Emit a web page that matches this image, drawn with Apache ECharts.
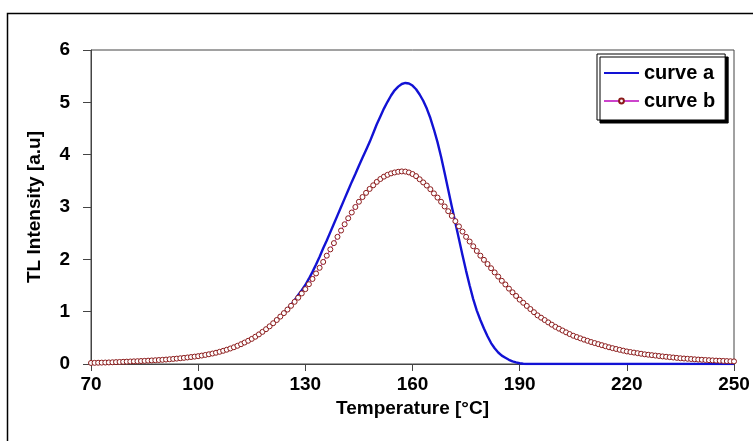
<!DOCTYPE html>
<html>
<head>
<meta charset="utf-8">
<script src="https://cdn.jsdelivr.net/npm/echarts@6/dist/echarts.min.js"></script>
<style>html,body{margin:0;padding:0;background:#fff}#c{width:753px;height:441px}</style>
</head>
<body>
<div id="c"></div>
<script>
// Temperatures (°C), 1-degree steps from 70 to 250
var tStart = 70, tEnd = 250;
var temperatures = [];
for (var t = tStart; t <= tEnd; t++) temperatures.push(String(t));
var xTickLabels = ['70','100','130','160','190','220','250'];
var yTickLabels = [0,1,2,3,4,5,6];

var curveA = [
 0.020,0.022,0.024,0.026,0.028,0.030,0.033,0.036,0.039,0.042,
 0.045,0.048,0.051,0.054,0.057,0.060,0.064,0.068,0.072,0.076,
 0.080,0.085,0.091,0.097,0.103,0.110,0.117,0.125,0.133,0.141,
 0.150,0.161,0.173,0.186,0.200,0.215,0.233,0.252,0.273,0.296,
 0.320,0.348,0.378,0.410,0.444,0.480,0.521,0.566,0.614,0.665,
 0.720,0.779,0.841,0.906,0.972,1.050,1.130,1.220,1.320,1.410,
 1.510,1.630,1.760,1.900,2.050,2.210,2.360,2.520,2.680,2.840,
 3.000,3.160,3.320,3.480,3.630,3.790,3.940,4.090,4.240,4.410,
 4.580,4.730,4.880,5.010,5.130,5.230,5.300,5.350,5.370,5.360,
 5.320,5.250,5.150,5.030,4.880,4.700,4.480,4.240,3.960,3.650,
 3.330,3.010,2.700,2.390,2.080,1.780,1.500,1.240,1.020,0.840,
 0.680,0.530,0.400,0.300,0.220,0.160,0.120,0.080,0.050,0.030,
 0.015,0.005,0,0,0,0,0,0,0,0,
 0,0,0,0,0,0,0,0,0,0,
 0,0,0,0,0,0,0,0,0,0,
 0,0,0,0,0,0,0,0,0,0,
 0,0,0,0,0,0,0,0,0,0,
 0,0,0,0,0,0,0,0,0,0,
 0
];

var curveB = [
 0.020,0.022,0.024,0.026,0.028,0.030,0.033,0.036,0.039,0.042,
 0.045,0.048,0.051,0.054,0.057,0.060,0.064,0.068,0.072,0.076,
 0.080,0.085,0.091,0.097,0.103,0.110,0.117,0.125,0.133,0.141,
 0.150,0.161,0.173,0.186,0.200,0.215,0.233,0.252,0.273,0.296,
 0.320,0.348,0.378,0.410,0.444,0.480,0.521,0.566,0.614,0.665,
 0.720,0.779,0.841,0.906,0.972,1.040,1.112,1.188,1.267,1.348,
 1.430,1.525,1.625,1.730,1.838,1.950,2.070,2.190,2.310,2.430,
 2.550,2.670,2.785,2.895,3.000,3.100,3.190,3.270,3.345,3.415,
 3.480,3.535,3.580,3.615,3.642,3.660,3.673,3.680,3.677,3.660,
 3.630,3.590,3.530,3.470,3.410,3.340,3.260,3.180,3.100,3.010,
 2.920,2.830,2.730,2.630,2.530,2.430,2.340,2.250,2.160,2.070,
 1.990,1.910,1.830,1.750,1.670,1.590,1.520,1.440,1.370,1.300,
 1.230,1.170,1.110,1.050,0.990,0.930,0.885,0.840,0.795,0.752,
 0.710,0.675,0.640,0.605,0.572,0.540,0.515,0.490,0.466,0.443,
 0.420,0.400,0.380,0.360,0.340,0.320,0.303,0.287,0.271,0.255,
 0.240,0.229,0.218,0.207,0.196,0.185,0.177,0.169,0.161,0.153,
 0.145,0.138,0.131,0.124,0.117,0.110,0.105,0.100,0.095,0.090,
 0.085,0.081,0.077,0.073,0.069,0.065,0.062,0.059,0.056,0.053,
 0.050
];

var FONT = 'Arial, "Liberation Sans", sans-serif';
var FS = 19;
var chart = echarts.init(document.getElementById('c'), null, {renderer: 'canvas'});
function isTick(i, v) { return xTickLabels.indexOf(String(v)) >= 0; }

chart.setOption({
  animation: false,
  backgroundColor: '#fff',
  graphic: [{
    type: 'rect', z: -10, silent: true,
    shape: {x: 7.5, y: 13.5, width: 770, height: 450},
    style: {fill: 'none', stroke: '#000', lineWidth: 1.5}
  }],
  grid: {left: 91, right: 19, top: 50, bottom: 77, show: true,
         borderColor: '#444', borderWidth: 1, backgroundColor: 'transparent'},
  legend: {
    orient: 'vertical', left: 597, top: 54,
    padding: [9, 10, 9, 6], itemGap: 8, itemWidth: 35, itemHeight: 6,
    backgroundColor: '#fff', borderColor: '#000', borderWidth: 1,
    shadowColor: '#000', shadowOffsetX: 3, shadowOffsetY: 3, shadowBlur: 0,
    textStyle: {fontFamily: FONT, fontSize: 20, fontWeight: 'bold', color: '#000'},
    data: [
      {name: 'curve a', itemStyle: {opacity: 0}},
      {name: 'curve b'}
    ]
  },
  xAxis: {
    type: 'category', data: temperatures, boundaryGap: false,
    name: 'Temperature [°C]', nameLocation: 'middle', nameGap: 32,
    nameTextStyle: {fontFamily: FONT, fontSize: FS, fontWeight: 'bold', color: '#000'},
    axisLine: {lineStyle: {color: '#444', width: 1}},
    axisTick: {show: true, inside: false, length: 7, interval: isTick, lineStyle: {color: '#444'}},
    axisLabel: {interval: isTick, margin: 11, fontFamily: FONT, fontSize: FS, fontWeight: 'bold', color: '#000'},
    splitLine: {show: false}
  },
  yAxis: {
    type: 'value', min: yTickLabels[0], max: yTickLabels[yTickLabels.length-1], interval: 1,
    name: 'TL Intensity [a.u]', nameLocation: 'middle', nameGap: 47, nameRotate: 90,
    nameTextStyle: {fontFamily: FONT, fontSize: FS, fontWeight: 'bold', color: '#000'},
    axisLine: {show: true, lineStyle: {color: '#444', width: 1}},
    axisTick: {show: true, inside: false, length: 8, lineStyle: {color: '#444'}},
    axisLabel: {margin: 21, fontFamily: FONT, fontSize: FS, fontWeight: 'bold', color: '#000'},
    splitLine: {show: false}
  },
  series: [{
    name: 'curve a', type: 'line', data: curveA, showSymbol: false, symbol: 'none',
    lineStyle: {color: '#1212d4', width: 2.4}, itemStyle: {color: '#1212d4'}, z: 2
  }, {
    name: 'curve b', type: 'line', data: curveB, symbol: 'circle', symbolSize: 5,
    showAllSymbol: true,
    lineStyle: {color: '#cc44cc', width: 1},
    itemStyle: {color: '#fff', borderColor: '#8b1a1a', borderWidth: 1}, z: 3
  }]
});
</script>
</body>
</html>
